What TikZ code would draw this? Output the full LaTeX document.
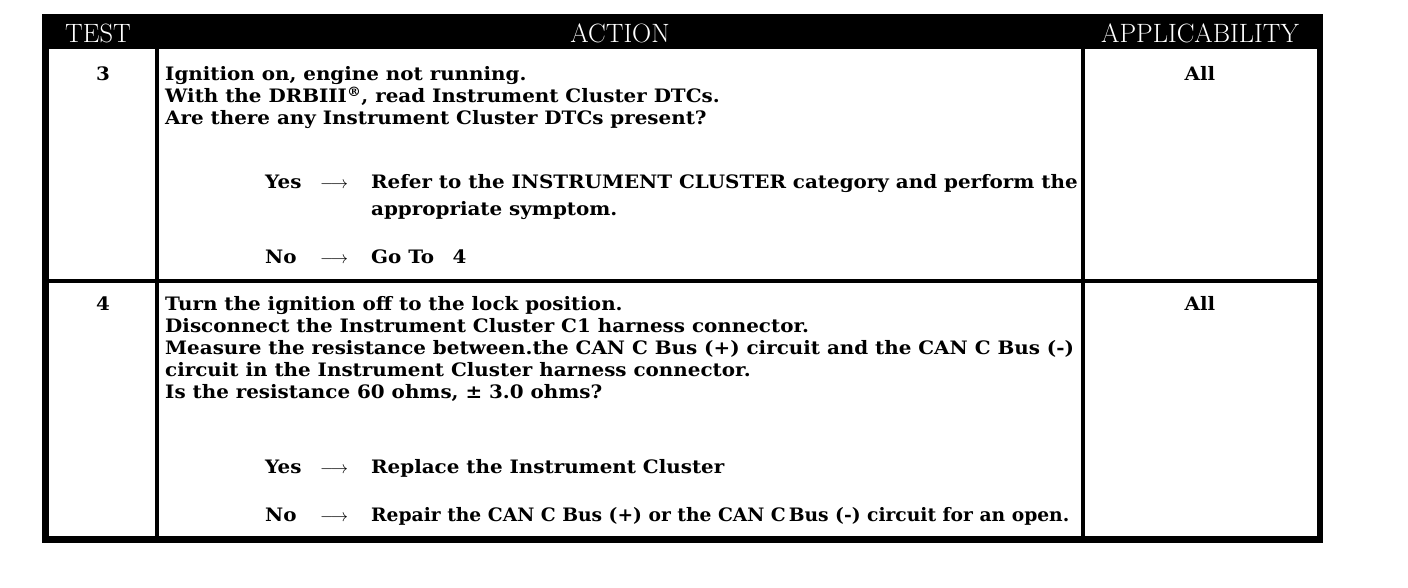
\documentclass[tikz,border=0pt]{standalone}
\usepackage{fontspec}
\newfontfamily\bodyfont[FakeStretch=1.075]{DejaVu Serif}
\usetikzlibrary{positioning}

\begin{document}
\begin{tikzpicture}[x=1pt, y=-1pt,
    hdr/.style={text=white, font=\fontsize{26.5}{30}\selectfont, anchor=base, inner sep=0pt},
    txt/.style={font=\bodyfont\bfseries\fontsize{18.5}{22}\selectfont, anchor=base west, inner sep=0pt},
    num/.style={txt, anchor=base},
    rule/.style={line width=4pt},
    frame/.style={line width=6.5pt}]
    \useasboundingbox (0,0) rectangle (1408,588);

    % header band
    \fill (42,14) rectangle (1323,49);
    \node[hdr] (test) at (98,43) {TEST};
    \node[hdr] (action) at (620,43) {ACTION};
    \node[hdr] (appl) at (1200,43) {APPLICABILITY};

    % grid
    \draw[frame] (45.25,46) -- (45.25,539.5) -- (1319.75,539.5) -- (1319.75,46);
    \draw[rule] (157,49) -- (157,536);
    \draw[rule] (1083,49) -- (1083,536);
    \draw[rule] (45,280.5) -- (1320,280.5);

    % test 3
    \node[num] (t3) at (103,81) {3};
    \node[num] (all3) at (1200,81) {All};
    \node[txt] (a3) at (165,81) {Ignition on, engine not running.};
    \node[txt, below=22pt of a3.base west, anchor=base west] (b3) {With the DRBIII\textsuperscript{®}, read Instrument Cluster DTCs.};
    \node[txt, below=22pt of b3.base west, anchor=base west] (c3) {Are there any Instrument Cluster DTCs present?};
    \node[txt] (yes3) at (265,189) {Yes};
    \node[txt] (yar3) at (320,189) {$\longrightarrow$};
    \node[txt] (yt3) at (371,189) {Refer to the INSTRUMENT CLUSTER category and perform the};
    \node[txt, below=26pt of yt3.base west, anchor=base west] (yu3) {appropriate symptom.};
    \node[txt] (no3) at (265,263) {No};
    \node[txt] (nar3) at (320,263) {$\longrightarrow$};
    \node[txt] (nt3) at (371,263) {Go To\quad 4};

    % test 4
    \node[num] (t4) at (103,310) {4};
    \node[num] (all4) at (1200,310) {All};
    \node[txt] (a4) at (165,310) {Turn the ignition off to the lock position.};
    \node[txt, below=22pt of a4.base west, anchor=base west] (b4) {Disconnect the Instrument Cluster C1 harness connector.};
    \node[txt, below=22pt of b4.base west, anchor=base west] (c4) {Measure the resistance between.the CAN C Bus (+) circuit and the CAN C Bus (-)};
    \node[txt, below=22pt of c4.base west, anchor=base west] (d4) {circuit in the Instrument Cluster harness connector.};
    \node[txt, below=22pt of d4.base west, anchor=base west] (e4) {Is the resistance 60 ohms, ± 3.0 ohms?};
    \node[txt] (yes4) at (265,473) {Yes};
    \node[txt] (yar4) at (320,473) {$\longrightarrow$};
    \node[txt] (yt4) at (371,473) {Replace the Instrument Cluster};
    \node[txt] (no4) at (265,521) {No};
    \node[txt] (nar4) at (320,521) {$\longrightarrow$};
    \node[txt] (nt4) at (371,521) {\scalebox{0.94}[1]{Repair the CAN C Bus (+) or the CAN C\,Bus (-) circuit for an open.}};
\end{tikzpicture}
\end{document}
